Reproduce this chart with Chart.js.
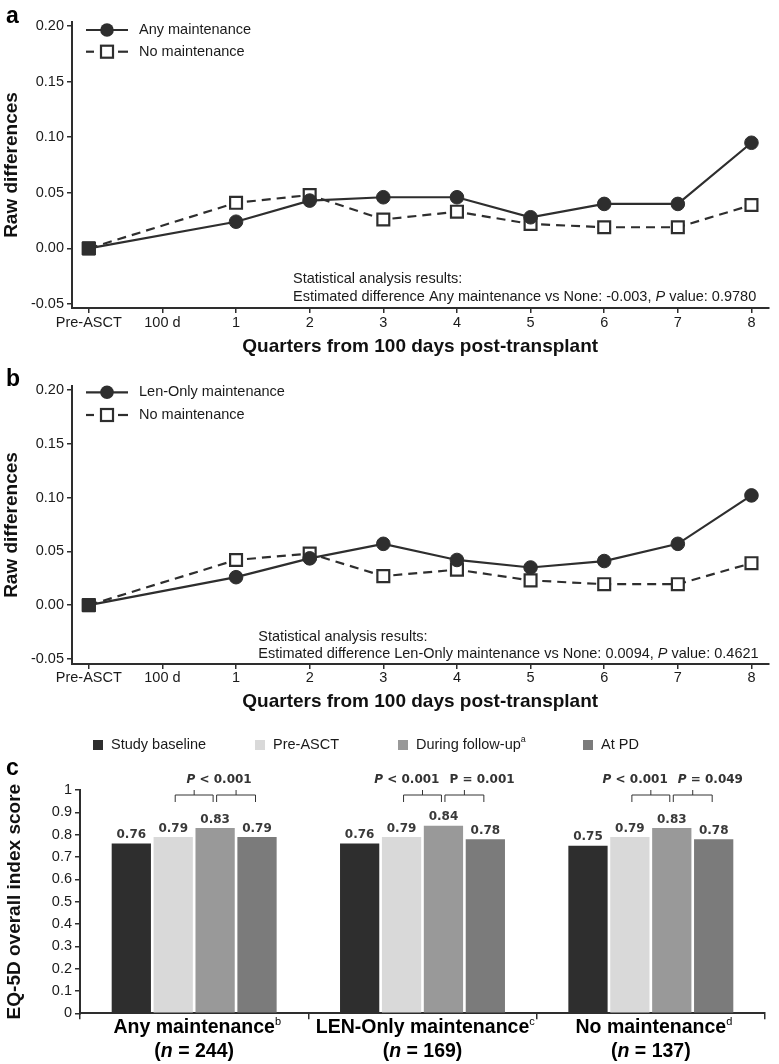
<!DOCTYPE html>
<html><head><meta charset="utf-8">
<script src="https://cdn.jsdelivr.net/npm/chart.js@4.4.1/dist/chart.umd.min.js"></script>
<style>
html,body{margin:0;padding:0;background:#fff;}
#wrap{position:relative;width:779px;height:1064px;overflow:hidden;background:#fff;}
canvas{position:absolute;left:0;}
</style></head><body>
<div id="wrap">
<canvas id="ca" width="779" height="360" style="top:0px"></canvas>
<canvas id="cb" width="779" height="370" style="top:360px"></canvas>
<canvas id="cc" width="779" height="334" style="top:730px"></canvas>
</div>
<script>
// ---------- data ----------
const xLabels = ['Pre-ASCT', '100 d', '1', '2', '3', '4', '5', '6', '7', '8'];
const yTicksLine = [-0.05, 0, 0.05, 0.10, 0.15, 0.20];
const yTickLabelsLine = ['-0.05', '0.00', '0.05', '0.10', '0.15', '0.20'];

const anyMaintenance = [0, null, 0.024, 0.043, 0.046, 0.046, 0.028, 0.040, 0.040, 0.095];
const noMaintenanceA = [0, null, 0.041, 0.048, 0.026, 0.033, 0.022, 0.019, 0.019, 0.039];
const lenOnlyMaintenance = [0, null, 0.026, 0.0435, 0.057, 0.042, 0.035, 0.041, 0.057, 0.102];
const noMaintenanceB = [0, null, 0.042, 0.048, 0.027, 0.033, 0.023, 0.0195, 0.0195, 0.039];

const barGroups = ['Any maintenance', 'LEN-Only maintenance', 'No maintenance'];
const barGroupSup = ['b', 'c', 'd'];
const barGroupN = ['244', '169', '137'];
const barSeries = ['Study baseline', 'Pre-ASCT', 'During follow-up', 'At PD'];
const barSeriesSup = ['', '', 'a', ''];
const studyBaseline = [0.76, 0.76, 0.75];
const preASCT = [0.79, 0.79, 0.79];
const duringFollowUp = [0.83, 0.84, 0.83];
const atPD = [0.79, 0.78, 0.78];
const yTicksBar = [0, 0.1, 0.2, 0.3, 0.4, 0.5, 0.6, 0.7, 0.8, 0.9, 1];
const yTickLabelsBar = ['0', '0.1', '0.2', '0.3', '0.4', '0.5', '0.6', '0.7', '0.8', '0.9', '1'];
// P-value annotations per group: [italic P?, text]
const pLabels = [
  [[true, ' < 0.001']],
  [[true, ' < 0.001'], [false, ' = 0.001']],
  [[true, ' < 0.001'], [true, ' = 0.049']]
];

// ---------- styling ----------
const SANS = '"Liberation Sans", Arial, Helvetica, sans-serif';
const DJV = '"DejaVu Sans", Verdana, sans-serif';
const DARK = '#2e2e2e';
const TXT = '#1a1a1a';
const barColors = ['#2e2e2e', '#d9d9d9', '#999999', '#7b7b7b'];
Chart.defaults.font.family = SANS;
Chart.defaults.color = TXT;

function runsWidth(ctx, runs) {
  let w = 0;
  for (const r of runs) { ctx.font = r.font; w += ctx.measureText(r.text).width; }
  return w;
}
function drawRuns(ctx, runs, x, y, align) {
  const w = runsWidth(ctx, runs);
  let cx = align === 'center' ? x - w / 2 : (align === 'right' ? x - w : x);
  ctx.textAlign = 'left';
  ctx.textBaseline = 'middle';
  for (const r of runs) {
    ctx.font = r.font;
    ctx.fillStyle = r.color || TXT;
    ctx.fillText(r.text, cx, y + (r.dy || 0));
    cx += ctx.measureText(r.text).width;
  }
}

function makeLineChart(id, cfg) {
  const annot = {
    id: 'annot_' + id,
    afterDraw(chart) {
      const ctx = chart.ctx;
      ctx.save();
      // panel letter
      ctx.font = 'bold 23px ' + SANS; ctx.fillStyle = '#000';
      ctx.textAlign = 'left'; ctx.textBaseline = 'alphabetic';
      ctx.fillText(cfg.letter, 6, cfg.letterY);
      // legend
      const lx = chart.chartArea.left;
      ctx.strokeStyle = DARK; ctx.fillStyle = DARK; ctx.lineWidth = 2.2;
      // solid entry
      let y = cfg.legY[0];
      ctx.beginPath(); ctx.moveTo(lx + 14, y); ctx.lineTo(lx + 56, y); ctx.stroke();
      ctx.beginPath(); ctx.arc(lx + 35, y, 6.8, 0, Math.PI * 2); ctx.fill();
      // dashed entry
      y = cfg.legY[1];
      ctx.beginPath(); ctx.moveTo(lx + 14, y); ctx.lineTo(lx + 22, y); ctx.stroke();
      ctx.beginPath(); ctx.moveTo(lx + 46, y); ctx.lineTo(lx + 56, y); ctx.stroke();
      ctx.fillStyle = '#fff';
      ctx.fillRect(lx + 29, y - 6, 12, 12);
      ctx.strokeRect(lx + 29, y - 6, 12, 12);
      drawRuns(ctx, [{ text: cfg.names[0], font: '14.5px ' + SANS }], lx + 67, cfg.legY[0], 'left');
      drawRuns(ctx, [{ text: cfg.names[1], font: '14.5px ' + SANS }], lx + 67, cfg.legY[1], 'left');
      // statistics text
      const f = '14.5px ' + SANS, fi = 'italic 14.5px ' + SANS;
      drawRuns(ctx, [{ text: 'Statistical analysis results:', font: f }], cfg.statX, cfg.statY[0], 'left');
      drawRuns(ctx, [
        { text: cfg.statText, font: f },
        { text: 'P', font: fi },
        { text: cfg.statP, font: f }
      ], cfg.statX, cfg.statY[1], 'left');
      ctx.restore();
    }
  };
  return new Chart(document.getElementById(id), {
    type: 'line',
    data: {
      datasets: [
        {
          label: cfg.names[0],
          data: cfg.s1.map((v, i) => ({ x: i, y: v })),
          borderColor: DARK, backgroundColor: DARK, borderWidth: 2.2, tension: 0, spanGaps: true,
          pointStyle: c => c.dataIndex === 0 ? 'rect' : 'circle',
          pointRadius: c => c.dataIndex === 0 ? 9.2 : 6.8,
          pointBackgroundColor: DARK, pointBorderColor: DARK, pointBorderWidth: 1
        },
        {
          label: cfg.names[1],
          data: cfg.s2.map((v, i) => ({ x: i, y: v })),
          borderColor: DARK, backgroundColor: '#fff', borderWidth: 2.2, borderDash: [9, 6], tension: 0, spanGaps: true,
          pointStyle: 'rect',
          pointRadius: c => c.dataIndex === 0 ? 9.2 : 8.4,
          pointBackgroundColor: c => c.dataIndex === 0 ? DARK : '#fff',
          pointBorderColor: DARK,
          pointBorderWidth: c => c.dataIndex === 0 ? 1 : 2.2
        }
      ]
    },
    options: {
      responsive: false, animation: false, devicePixelRatio: 1,
      layout: { padding: { top: cfg.top, right: 2, left: 0, bottom: 0 } },
      plugins: { legend: { display: false }, tooltip: { enabled: false } },
      scales: {
        x: {
          type: 'linear', min: -0.228, max: 9.23,
          afterBuildTicks: s => { s.ticks = xLabels.map((l, i) => ({ value: i })); },
          afterFit: s => { s.height = cfg.xh; },
          ticks: { autoSkip: false, maxRotation: 0, padding: cfg.xpad, font: { size: 14.5 }, color: TXT,
                   callback: (v, i) => xLabels[i] },
          grid: { drawOnChartArea: false, drawTicks: true, tickLength: 5, color: DARK, lineWidth: 1.5 },
          border: { display: true, color: DARK, width: 2 },
          title: { display: true, text: 'Quarters from 100 days post-transplant',
                   font: { size: 19, weight: 'bold' }, color: '#111', padding: { top: 0, bottom: cfg.tpad } }
        },
        y: {
          min: cfg.ymin, max: cfg.ymax,
          afterBuildTicks: s => { s.ticks = yTicksLine.map(v => ({ value: v })); },
          afterFit: s => { s.width = 72; },
          ticks: { padding: 3, font: { size: 14.5 }, color: TXT, callback: (v, i) => yTickLabelsLine[i] },
          grid: { drawOnChartArea: false, drawTicks: true, tickLength: 5, color: DARK, lineWidth: 1.5 },
          border: { display: true, color: DARK, width: 2 },
          title: { display: true, text: 'Raw differences', font: { size: 19, weight: 'bold' }, color: '#111',
                   padding: { top: 0, bottom: 0 } }
        }
      }
    },
    plugins: [annot]
  });
}

makeLineChart('ca', {
  letter: 'a', letterY: 23,
  names: ['Any maintenance', 'No maintenance'],
  s1: anyMaintenance, s2: noMaintenanceA,
  top: 22, xh: 52, xpad: 1, tpad: 2, ymin: -0.0536, ymax: 0.2036,
  legY: [30, 51.7],
  statX: 293, statY: [279.3, 296.7],
  statText: 'Estimated difference Any maintenance vs None: -0.003, ', statP: ' value: 0.9780'
});
makeLineChart('cb', {
  letter: 'b', letterY: 26,
  names: ['Len-Only maintenance', 'No maintenance'],
  s1: lenOnlyMaintenance, s2: noMaintenanceB,
  top: 26, xh: 66, xpad: 0, tpad: 16.6, ymin: -0.0547, ymax: 0.2037,
  legY: [32.3, 55],
  statX: 258.3, statY: [276.7, 294.3],
  statText: 'Estimated difference Len-Only maintenance vs None: 0.0094, ', statP: ' value: 0.4621'
});

// ---------- bar chart ----------
const barPlugin = {
  id: 'barAnnot',
  afterDraw(chart) {
    const ctx = chart.ctx;
    ctx.save();
    // letter
    ctx.font = 'bold 23px ' + SANS; ctx.fillStyle = '#000';
    ctx.textAlign = 'left'; ctx.textBaseline = 'alphabetic';
    ctx.fillText('c', 6, 45);
    // legend
    const legX = [93, 255, 398, 583];
    barSeries.forEach((name, i) => {
      ctx.fillStyle = barColors[i];
      ctx.fillRect(legX[i], 10, 10, 10);
      const runs = [{ text: name, font: '14.5px ' + SANS }];
      if (barSeriesSup[i]) runs.push({ text: barSeriesSup[i], font: '9px ' + SANS, dy: -5 });
      drawRuns(ctx, runs, legX[i] + 18, 15, 'left');
    });
    // value labels
    chart.data.datasets.forEach((ds, di) => {
      const meta = chart.getDatasetMeta(di);
      meta.data.forEach((el, j) => {
        drawRuns(ctx, [{ text: ds.data[j].toFixed(2), font: 'bold 12px ' + DJV, color: '#3a3a3a' }], el.x, el.y - 8.5, 'center');
      });
    });
    // brackets + p values
    const m1 = chart.getDatasetMeta(1), m2 = chart.getDatasetMeta(2), m3 = chart.getDatasetMeta(3);
    ctx.strokeStyle = '#333'; ctx.lineWidth = 1;
    const bracket = (x1, x2) => {
      const yTop = 65, yEnd = 72, yMid = 60;
      ctx.beginPath();
      ctx.moveTo(x1, yEnd); ctx.lineTo(x1, yTop); ctx.lineTo(x2, yTop); ctx.lineTo(x2, yEnd);
      ctx.moveTo((x1 + x2) / 2, yTop); ctx.lineTo((x1 + x2) / 2, yMid);
      ctx.stroke();
    };
    for (let g = 0; g < barGroups.length; g++) {
      const c1 = m1.data[g].x, c2 = m2.data[g].x, c3 = m3.data[g].x;
      bracket(c1 + 2, c2 - 2);
      bracket(c2 + 1.5, c3 - 1.5);
      const pl = pLabels[g];
      const mk = p => [
        { text: 'P', font: (p[0] ? 'italic ' : '') + 'bold 12px ' + DJV, color: '#333' },
        { text: p[1], font: 'bold 12px ' + DJV, color: '#333' }
      ];
      if (pl.length === 1) {
        drawRuns(ctx, mk(pl[0]), c2 + 4, 50, 'center');
      } else {
        drawRuns(ctx, mk(pl[0]), c2 - 4, 50, 'right');
        drawRuns(ctx, mk(pl[1]), c2 + 6, 50, 'left');
      }
    }
    // category labels
    const xs = chart.scales.x;
    for (let g = 0; g < barGroups.length; g++) {
      const x = xs.getPixelForValue(g);
      const mainFont = 'bold 19.5px ' + SANS;
      ctx.font = mainFont;
      const w = ctx.measureText(barGroups[g]).width;
      drawRuns(ctx, [{ text: barGroups[g], font: mainFont, color: '#000' },
                     { text: barGroupSup[g], font: '11px ' + SANS, dy: -6, color: '#000' }], x - w / 2, 298, 'left');
      drawRuns(ctx, [{ text: '(', font: mainFont, color: '#000' },
                     { text: 'n', font: 'italic ' + mainFont, color: '#000' },
                     { text: ' = ' + barGroupN[g] + ')', font: mainFont, color: '#000' }], x, 321.7, 'center');
    }
    ctx.restore();
  }
};

new Chart(document.getElementById('cc'), {
  type: 'bar',
  data: {
    labels: barGroups,
    datasets: [
      { label: barSeries[0], data: studyBaseline, backgroundColor: barColors[0] },
      { label: barSeries[1], data: preASCT, backgroundColor: barColors[1] },
      { label: barSeries[2], data: duringFollowUp, backgroundColor: barColors[2] },
      { label: barSeries[3], data: atPD, backgroundColor: barColors[3] }
    ]
  },
  options: {
    responsive: false, animation: false, devicePixelRatio: 1,
    layout: { padding: { top: 60, right: 14, left: 0, bottom: 0 } },
    datasets: { bar: { barPercentage: 0.937, categoryPercentage: 0.734, borderWidth: 0 } },
    plugins: { legend: { display: false }, tooltip: { enabled: false } },
    scales: {
      x: {
        afterFit: s => { s.height = 50.7; },
        ticks: { display: false },
        grid: { offset: true, drawOnChartArea: false, drawTicks: true, tickLength: 6, color: DARK, lineWidth: 1.5 },
        border: { display: true, color: DARK, width: 2 }
      },
      y: {
        min: 0, max: 1,
        afterBuildTicks: s => { s.ticks = yTicksBar.map(v => ({ value: v })); },
        afterFit: s => { s.width = 80; },
        ticks: { padding: 3, font: { size: 14.5 }, color: TXT, callback: (v, i) => yTickLabelsBar[i] },
        grid: { drawOnChartArea: false, drawTicks: true, tickLength: 5, color: DARK, lineWidth: 1.5 },
        border: { display: true, color: DARK, width: 2 },
        title: { display: true, text: 'EQ-5D overall index score', font: { size: 19, weight: 'bold' }, color: '#111',
                 padding: { top: 3, bottom: 0 } }
      }
    }
  },
  plugins: [barPlugin]
});
</script>
</body></html>
